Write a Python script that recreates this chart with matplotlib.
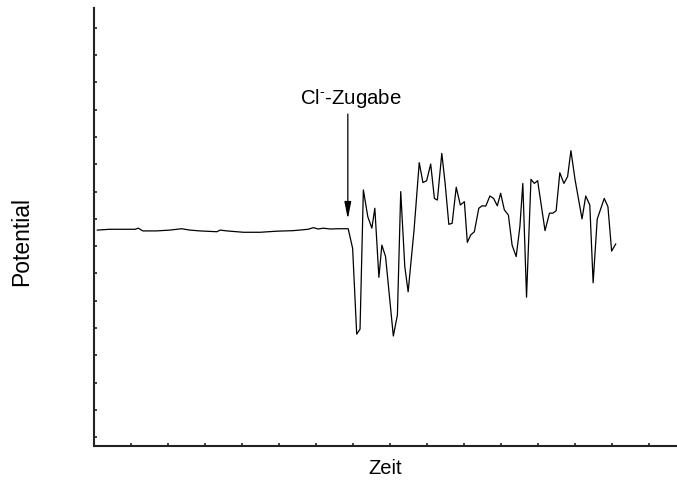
import matplotlib
matplotlib.use("Agg")
import matplotlib.pyplot as plt
from matplotlib.ticker import MultipleLocator, NullFormatter

plt.rcParams['font.family'] = ['Liberation Sans', 'DejaVu Sans']
plt.rcParams['mathtext.fontset'] = 'custom'
plt.rcParams['mathtext.rm'] = 'Liberation Sans'
plt.rcParams['mathtext.it'] = 'Liberation Sans'

# Time (arbitrary units) and potential (arbitrary units)
zeit = [0.09, 0.43, 1.11, 1.20, 1.32, 1.69, 2.05, 2.37, 2.59, 2.86, 3.32, 3.41,
        3.59, 4.04, 4.49, 4.94, 5.39, 5.79, 5.93, 6.06, 6.20, 6.38, 6.60, 6.87,
        6.99, 7.10, 7.19, 7.28, 7.40, 7.51, 7.59, 7.70, 7.78, 7.88, 8.09, 8.20,
        8.29, 8.40, 8.49, 8.65, 8.79, 8.89, 8.99, 9.10, 9.20, 9.28, 9.40, 9.49,
        9.59, 9.68, 9.79, 9.90, 10.01, 10.09, 10.18, 10.28, 10.40, 10.49, 10.59,
        10.70, 10.80, 10.90, 10.99, 11.09, 11.20, 11.30, 11.41, 11.51, 11.59,
        11.69, 11.81, 11.90, 11.99, 12.19, 12.31, 12.40, 12.49, 12.59, 12.70,
        12.80, 12.89, 13.00, 13.19, 13.29, 13.40, 13.49, 13.60, 13.79, 13.89,
        13.99, 14.10]
potential = [7.59, 7.62, 7.62, 7.66, 7.56, 7.56, 7.59, 7.64, 7.59, 7.56, 7.53, 7.59,
             7.56, 7.51, 7.51, 7.55, 7.57, 7.62, 7.68, 7.63, 7.66, 7.63, 7.64, 7.64,
             6.92, 3.78, 3.96, 9.06, 8.08, 7.66, 8.39, 5.86, 7.04, 6.62, 3.71, 4.48,
             9.00, 6.25, 5.33, 7.59, 10.06, 9.33, 9.40, 10.01, 8.75, 8.69, 10.40, 9.30,
             7.80, 7.84, 9.16, 8.51, 8.63, 7.14, 7.41, 7.53, 8.39, 8.48, 8.47,
             8.84, 8.75, 8.48, 8.94, 8.33, 8.14, 7.04, 6.62, 7.71, 9.30,
             5.13, 9.45, 9.30, 9.40, 7.57, 8.21, 8.21, 8.30, 9.69, 9.30,
             9.55, 10.50, 9.45, 8.00, 8.84, 8.51, 5.66, 7.99, 8.75, 8.45,
             6.82, 7.08]

annot_text = r'Cl$^{\text{-}}$-Zugabe'
annot_x = 6.86
annot_text_y = 11.84
annot_tip_y = 8.0

fig = plt.figure(figsize=(6.77, 4.88), dpi=100)
ax = fig.add_axes([94/677, 1 - 446/488, 1 - 94/677, (446 - 8)/488])

ax.plot(zeit, potential, color='black', linewidth=0.9)

ax.set_xlim(0, 583/37)
ax.set_ylim(-8.7/27.3, 429.3/27.3)
ax.xaxis.set_major_locator(MultipleLocator(1))
ax.yaxis.set_major_locator(MultipleLocator(1))
ax.xaxis.set_major_formatter(NullFormatter())
ax.yaxis.set_major_formatter(NullFormatter())
ax.tick_params(direction='in', length=2.5, width=1.2, colors='#222222')

for s in ['top', 'right']:
    ax.spines[s].set_visible(False)
for s in ['left', 'bottom']:
    ax.spines[s].set_linewidth(1.5)
    ax.spines[s].set_color('#222222')

ax.annotate('', xy=(annot_x, annot_tip_y), xytext=(annot_x, annot_text_y),
            arrowprops=dict(arrowstyle='-|>,head_width=0.17,head_length=0.85',
                            color='black', lw=0.9,
                            mutation_scale=12, shrinkA=0, shrinkB=0))
ax.text(annot_x + 0.08, annot_text_y + 0.15, annot_text, ha='center', va='bottom',
        fontsize=14.7)

fig.text(385/677, 1 - 468/488, 'Zeit', ha='center', va='center', fontsize=14.5)
fig.text(22/677, 1 - 242/488, 'Potential', ha='center', va='center',
         rotation=90, fontsize=16.5)

fig.savefig('out.png', dpi=100)
